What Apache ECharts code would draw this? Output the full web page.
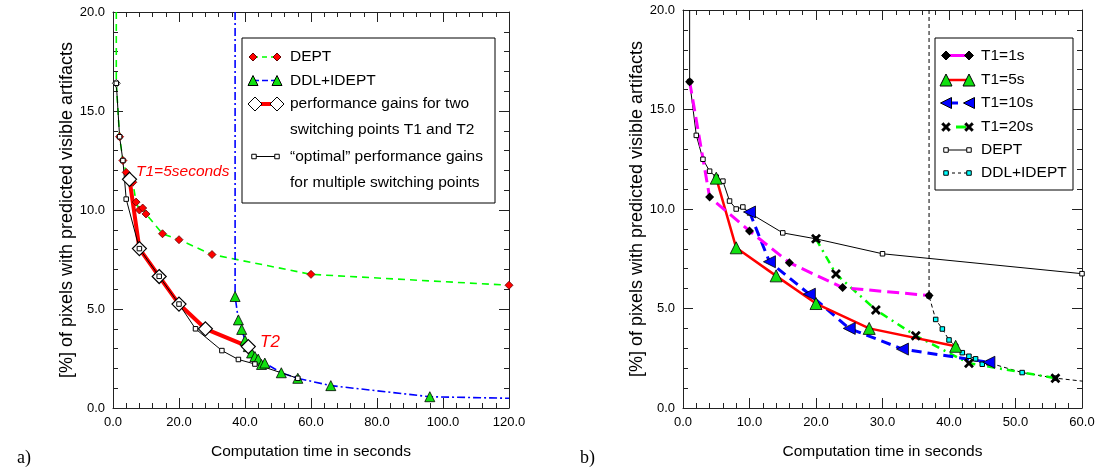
<!DOCTYPE html>
<html><head><meta charset="utf-8">
<script src="https://cdn.jsdelivr.net/npm/echarts/dist/echarts.min.js"></script>
<style>html,body{margin:0;padding:0;background:#fff}#c{width:1102px;height:472px}</style>
</head><body><div id="c"></div>
<script>
const FONT = '"Liberation Sans", Arial, Helvetica, sans-serif';

// ---------------- DATA ----------------
// tick labels
const xTickLabelsA = ['0.0','20.0','40.0','60.0','80.0','100.0','120.0'];
const xTickLabelsB = ['0.0','10.0','20.0','30.0','40.0','50.0','60.0'];
const yTickLabels  = ['0.0','5.0','10.0','15.0','20.0'];

// DEPT (shared by both panels)
const deptX = [1, 1, 2, 3, 4, 5, 6, 7, 8, 9, 10, 15, 20, 30, 60, 120];
const deptY = [20, 16.4, 13.7, 12.5, 11.9, 11.6, 11.4, 10.4, 10.0, 10.1, 9.8, 8.8, 8.5, 7.75, 6.75, 6.2];

// DDL+IDEPT (shared)
const ddlX = [37, 37, 38, 39, 40, 41, 42, 43, 44, 45, 46, 51, 56, 66, 96, 120];
const ddlY = [20, 5.63, 4.45, 3.97, 3.42, 3.1, 2.78, 2.6, 2.47, 2.2, 2.27, 1.78, 1.5, 1.13, 0.57, 0.49];

// performance gains for two switching points (a)  ==  T1=5s (b)
const perfX = [5, 8, 14, 20, 28, 41];
const perfY = [11.55, 8.05, 6.64, 5.25, 4.0, 3.1];

// "optimal" performance gains (a)
const optX = [1, 2, 3, 4, 8, 14, 20, 25, 33, 38, 43, 56];
const optY = [16.4, 13.7, 12.5, 10.55, 8.05, 6.65, 5.25, 4.0, 2.9, 2.45, 2.22, 1.5];

// panel b switching curves
const t1sX  = [1, 4, 10, 16, 24, 37];
const t1sY  = [16.4, 10.6, 8.9, 7.3, 6.05, 5.65];
const t10sX = [10, 13, 19, 25, 33, 46];
const t10sY = [9.85, 7.35, 5.72, 4.0, 2.96, 2.3];
const t20sX = [20, 23, 29, 35, 43, 56];
const t20sY = [8.5, 6.73, 4.93, 3.63, 2.25, 1.5];

// legend texts
const legendA = ['DEPT', 'DDL+IDEPT', 'performance gains for two', 'switching points T1 and T2',
                 '\u201Coptimal\u201D performance gains', 'for multiple switching points'];
const legendB = ['T1=1s', 'T1=5s', 'T1=10s', 'T1=20s', 'DEPT', 'DDL+IDEPT'];

// ---------------- HELPERS ----------------
function toData(xs, ys, special) {
  special = special || {};
  return xs.map((x, i) => Object.assign({ value: [x, ys[i]] }, special[i] || {}));
}
const NOSYM = { symbol: 'none' };
const CROSS = 'path://M2,0 L5,3 L8,0 L10,2 L7,5 L10,8 L8,10 L5,7 L2,10 L0,8 L3,5 L0,2 Z';

function mkAxisX(grid, pos, max, interval, labels, showName) {
  return {
    type: 'value', gridIndex: grid, position: pos, min: 0, max: max, interval: interval,
    axisLine: { show: true, onZero: false, lineStyle: { color: '#222', width: 1 } },
    axisTick: { show: true, inside: true, length: 10, lineStyle: { color: '#222' } },
    minorTick: { show: true, splitNumber: 5, length: 5, lineStyle: { color: '#222' } },
    splitLine: { show: false }, minorSplitLine: { show: false },
    axisLabel: { show: pos === 'bottom', margin: 8, color: '#000', fontFamily: FONT, fontSize: 13,
                 formatter: v => labels[Math.round(v / interval)] },
    name: showName ? 'Computation time in seconds' : '',
    nameLocation: 'middle', nameGap: 36,
    nameTextStyle: { color: '#000', fontFamily: FONT, fontSize: 15.5 }
  };
}
function mkAxisY(grid, pos, showName) {
  return {
    type: 'value', gridIndex: grid, position: pos, min: 0, max: 20, interval: 5,
    axisLine: { show: true, onZero: false, lineStyle: { color: '#222', width: 1 } },
    axisTick: { show: true, inside: true, length: 10, lineStyle: { color: '#222' } },
    minorTick: { show: true, splitNumber: 5, length: 5, lineStyle: { color: '#222' } },
    splitLine: { show: false }, minorSplitLine: { show: false },
    axisLabel: { show: pos === 'left', margin: 8, color: '#000', fontFamily: FONT, fontSize: 13,
                 formatter: v => yTickLabels[Math.round(v / 5)] },
    name: showName ? '[%] of pixels with predicted visible artifacts' : '',
    nameLocation: 'middle', nameGap: 32,
    nameTextStyle: { color: '#000', fontFamily: FONT, fontSize: 18 }
  };
}

// legend graphics
function symEl(kind, cx, cy, s, fill, stroke) {
  const st = { fill: fill, stroke: stroke || '#000', lineWidth: 1 };
  if (kind === 'diamond') return { type: 'polygon', shape: { points: [[cx, cy - s/2], [cx + s/2, cy], [cx, cy + s/2], [cx - s/2, cy]] }, style: st };
  if (kind === 'triangle') return { type: 'polygon', shape: { points: [[cx, cy - s/2], [cx + s/2, cy + s/2], [cx - s/2, cy + s/2]] }, style: st };
  if (kind === 'ltriangle') return { type: 'polygon', shape: { points: [[cx - s/2, cy], [cx + s/2, cy - s/2], [cx + s/2, cy + s/2]] }, style: st };
  if (kind === 'square') return { type: 'rect', shape: { x: cx - s/2, y: cy - s/2, width: s, height: s }, style: st };
  if (kind === 'cross') {
    const u = s / 10, p = [[2,0],[5,3],[8,0],[10,2],[7,5],[10,8],[8,10],[5,7],[2,10],[0,8],[3,5],[0,2]];
    return { type: 'polygon', shape: { points: p.map(q => [cx - s/2 + q[0]*u, cy - s/2 + q[1]*u]) }, style: { fill: '#000', stroke: '#000', lineWidth: 0.5 } };
  }
}
function lineEl(x1, x2, y, color, width, dash) {
  return { type: 'line', shape: { x1: x1, y1: y, x2: x2, y2: y }, style: { stroke: color, lineWidth: width, lineDash: dash || null } };
}
function textEl(x, y, t, size, color, style, family) {
  return { type: 'text', x: x, y: y, style: { text: t, fill: color || '#000', font: (style || 'normal') + ' ' + size + 'px ' + (family || FONT),
           textAlign: 'left', textVerticalAlign: 'middle', align: 'left', verticalAlign: 'middle' } };
}

const gfx = [];
// legend A box
gfx.push({ type: 'rect', shape: { x: 242, y: 38, width: 253, height: 165 }, style: { fill: '#fff', stroke: '#000', lineWidth: 1 }, z: 50 });
const lA = [57, 80.5, 104, 130, 156.5, 183];
const tA = 290;
gfx.push(lineEl(253, 277, lA[0], '#00ff00', 1.6, [5, 4]), symEl('diamond', 253, lA[0], 8, '#ff0000', '#600'), symEl('diamond', 277, lA[0], 8, '#ff0000', '#600'));
gfx.push(lineEl(253, 277, lA[1], '#0000ff', 1.6, [6, 3]), symEl('triangle', 253, lA[1], 10, '#10e010'), symEl('triangle', 277, lA[1], 10, '#10e010'));
gfx.push(lineEl(255, 277, lA[2], '#ff0000', 4), symEl('diamond', 255, lA[2], 14, '#fff'), symEl('diamond', 277, lA[2], 14, '#fff'));
gfx.push(lineEl(254, 277, lA[4], '#000', 1), symEl('square', 254, lA[4], 4.5, '#fff'), symEl('square', 277, lA[4], 4.5, '#fff'));
legendA.forEach((t, i) => gfx.push(textEl(tA, lA[i], t, 15.5)));
// legend B box
gfx.push({ type: 'rect', shape: { x: 935, y: 38, width: 138, height: 152 }, style: { fill: '#fff', stroke: '#000', lineWidth: 1 }, z: 50 });
const lB = [55.5, 80, 103, 127, 150, 173];
const tB = 981;
gfx.push(lineEl(946, 969, lB[0], '#ff00ff', 3), symEl('diamond', 946, lB[0], 9, '#000'), symEl('diamond', 969, lB[0], 9, '#000'));
gfx.push(lineEl(946, 969, lB[1], '#ff0000', 2.5), symEl('triangle', 946, lB[1], 12, '#10e010'), symEl('triangle', 969, lB[1], 12, '#10e010'));
gfx.push(lineEl(946, 958, lB[2], '#0000ff', 3), symEl('ltriangle', 946, lB[2], 11, '#0000ff'), symEl('ltriangle', 969, lB[2], 11, '#0000ff'));
gfx.push(lineEl(956, 966, lB[3], '#00ff00', 3), symEl('cross', 946, lB[3], 9), symEl('cross', 969, lB[3], 9));
gfx.push(lineEl(946, 969, lB[4], '#000', 1), symEl('square', 946, lB[4], 4.5, '#fff'), symEl('square', 969, lB[4], 4.5, '#fff'));
gfx.push(lineEl(946, 969, lB[5], '#000', 1, [3, 3]), symEl('square', 946, lB[5], 4.5, '#00ffff'), symEl('square', 969, lB[5], 4.5, '#00ffff'));
legendB.forEach((t, i) => gfx.push(textEl(tB, lB[i], t, 15.5)));
gfx.forEach(g => { if (g.z == null) g.z = 60; });
// annotations
gfx.push(Object.assign(textEl(136, 172, 'T1=5seconds', 15.5, '#ff0000', 'italic'), { z: 60 }));
gfx.push(Object.assign(textEl(260, 342, 'T2', 17, '#ff0000', 'italic'), { z: 60 }));
gfx.push(Object.assign(textEl(17, 458, 'a)', 18, '#000', 'normal', '"Liberation Serif", "Times New Roman", serif'), { z: 60 }));
gfx.push(Object.assign(textEl(580, 458, 'b)', 18, '#000', 'normal', '"Liberation Serif", "Times New Roman", serif'), { z: 60 }));

const chart = echarts.init(document.getElementById('c'), null, { renderer: 'canvas' });
chart.setOption({
  animation: false,
  backgroundColor: '#fff',
  grid: [
    { left: 113, top: 12, width: 396, height: 396, outerBoundsMode: 'none', containLabel: false },
    { left: 683, top: 10, width: 399, height: 398, outerBoundsMode: 'none', containLabel: false }
  ],
  xAxis: [
    mkAxisX(0, 'bottom', 120, 20, xTickLabelsA, true),
    mkAxisX(0, 'top', 120, 20, xTickLabelsA, false),
    mkAxisX(1, 'bottom', 60, 10, xTickLabelsB, true),
    mkAxisX(1, 'top', 60, 10, xTickLabelsB, false)
  ],
  yAxis: [
    mkAxisY(0, 'left', true),
    mkAxisY(0, 'right', false),
    mkAxisY(1, 'left', true),
    mkAxisY(1, 'right', false)
  ],
  graphic: { elements: gfx },
  series: [
    // ---- panel a ----
    { name: 'DEPT', type: 'line', xAxisIndex: 0, yAxisIndex: 0, clip: true,
      data: toData(deptX, deptY, { 0: NOSYM, 1: { itemStyle: { color: '#fff', borderColor: '#333', borderWidth: 1 } } }),
      symbol: 'diamond', symbolSize: 8,
      itemStyle: { color: '#ff0000', borderColor: '#600', borderWidth: 0.8 },
      lineStyle: { color: '#00ff00', width: 1.6, type: [7, 5] } },
    { name: 'DDL+IDEPT', type: 'line', xAxisIndex: 0, yAxisIndex: 0, clip: true,
      data: toData(ddlX, ddlY, { 0: NOSYM, 15: NOSYM }),
      symbol: 'triangle', symbolSize: 10,
      itemStyle: { color: '#10e010', borderColor: '#000', borderWidth: 0.8 },
      lineStyle: { color: '#0000ff', width: 1.6, type: [8, 3, 2, 3] } },
    { name: 'perf', type: 'line', xAxisIndex: 0, yAxisIndex: 0, clip: true,
      data: toData(perfX, perfY), symbol: 'diamond', symbolSize: 14,
      itemStyle: { color: '#fff', borderColor: '#000', borderWidth: 1.2 },
      lineStyle: { color: '#ff0000', width: 4 } },
    { name: 'optimal', type: 'line', xAxisIndex: 0, yAxisIndex: 0, clip: true,
      data: toData(optX, optY), symbol: 'rect', symbolSize: 4.5,
      itemStyle: { color: '#fff', borderColor: '#000', borderWidth: 1 },
      lineStyle: { color: '#000', width: 1 } },
    // ---- panel b ----
    { name: 'DEPT b', type: 'line', xAxisIndex: 2, yAxisIndex: 2, clip: true,
      data: toData(deptX, deptY, { 0: NOSYM }), symbol: 'rect', symbolSize: 4.5,
      itemStyle: { color: '#fff', borderColor: '#000', borderWidth: 1 },
      lineStyle: { color: '#000', width: 1 } },
    { name: 'DDL+IDEPT b', type: 'line', xAxisIndex: 2, yAxisIndex: 2, clip: true,
      data: toData(ddlX, ddlY, { 0: NOSYM }), symbol: 'rect', symbolSize: 4.5,
      itemStyle: { color: '#00ffff', borderColor: '#000', borderWidth: 1 },
      lineStyle: { color: '#000', width: 1, type: [4, 3] } },
    { name: 'T1=20s', type: 'line', xAxisIndex: 2, yAxisIndex: 2, clip: true,
      data: toData(t20sX, t20sY), symbol: CROSS, symbolSize: 10,
      itemStyle: { color: '#000' },
      lineStyle: { color: '#00ff00', width: 2.5, type: [8, 5, 2, 5] } },
    { name: 'T1=10s', type: 'line', xAxisIndex: 2, yAxisIndex: 2, clip: true,
      data: toData(t10sX, t10sY), symbol: 'triangle', symbolRotate: 90, symbolSize: 12,
      itemStyle: { color: '#0000ff', borderColor: '#000', borderWidth: 0.8 },
      lineStyle: { color: '#0000ff', width: 3, type: [10, 6] } },
    { name: 'T1=5s', type: 'line', xAxisIndex: 2, yAxisIndex: 2, clip: true,
      data: toData(perfX, perfY), symbol: 'triangle', symbolSize: 12,
      itemStyle: { color: '#10e010', borderColor: '#000', borderWidth: 0.8 },
      lineStyle: { color: '#ff0000', width: 2.5 } },
    { name: 'T1=1s', type: 'line', xAxisIndex: 2, yAxisIndex: 2, clip: true,
      data: toData(t1sX, t1sY), symbol: 'diamond', symbolSize: 9,
      itemStyle: { color: '#000' },
      lineStyle: { color: '#ff00ff', width: 3, type: [12, 6] } }
  ]
});
</script>
</body></html>
